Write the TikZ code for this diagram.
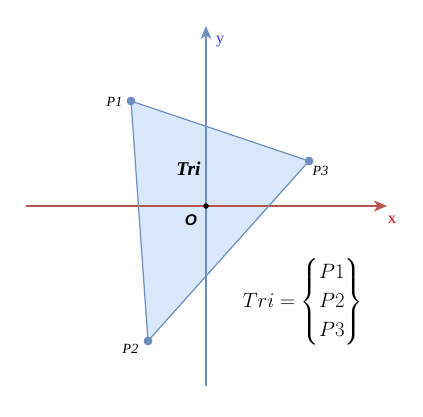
\documentclass[tikz,border=0pt]{standalone}
\usepackage{amsmath}
\usepackage{fontspec}
\newfontfamily\tnr{Liberation Serif}
\newfontfamily\arl{Liberation Sans}
\usetikzlibrary{arrows.meta}
\definecolor{fillb}{HTML}{DAE8FC}
\definecolor{strokeb}{HTML}{6C8EBF}
\definecolor{axred}{HTML}{B85450}
\definecolor{xlab}{HTML}{CC0000}
\definecolor{ylab}{HTML}{3333FF}
\begin{document}
\begin{tikzpicture}[x=1pt,y=-1pt,
  axis/.style={line width=1.2pt,-{Stealth[length=13pt,width=11pt,inset=3.5pt]}},
  vert/.style={circle,fill=strokeb,inner sep=0pt,minimum size=8.5pt},
  plab/.style={font=\fontsize{14}{15}\selectfont\tnr\itshape}]
\useasboundingbox (0,0) rectangle (423,416);
\coordinate (xs) at (26,206);
\coordinate (xe) at (387,206);
\coordinate (ys) at (206,386);
\coordinate (ye) at (206,26);
\node[vert] (p1) at (131,101) {};
\node[vert] (p2) at (148,341) {};
\node[vert] (p3) at (309,161) {};
\fill[fillb] (p1.center) -- (p3.center) -- (p2.center) -- cycle;
\draw[axis,axred] (xs) -- (xe);
\draw[axis,strokeb] (ys) -- (ye);
\draw[strokeb,line width=1.2pt,line join=round] (p1.center) -- (p3.center) -- (p2.center) -- cycle;
\node[vert] at (p1) {};
\node[vert] at (p2) {};
\node[vert] at (p3) {};
\node[circle,fill=black,inner sep=0pt,minimum size=5.5pt] (o) at (206,206) {};
\node[plab] (l1) at (114.5,102) {P1};
\node[plab] (l2) at (130.5,349) {P2};
\node[plab] (l3) at (320.5,171) {P3};
\node[text=ylab,font=\fontsize{16}{18}\selectfont\tnr] (ly) at (220,42) {y};
\node[text=xlab,font=\fontsize{16}{18}\selectfont\tnr] (lx) at (392,220) {x};
\node[font=\fontsize{15.5}{17}\selectfont\arl\bfseries\itshape] (lo) at (191,220) {O};
\node[font=\fontsize{19.5}{21}\selectfont\tnr\bfseries\itshape] (tri) at (188.5,169) {Tri};
\node[font=\fontsize{20.5}{29}\selectfont] (eq) at (303,302) {$Tri=\begin{Bmatrix}P1\\P2\\P3\end{Bmatrix}$};
\end{tikzpicture}
\end{document}
